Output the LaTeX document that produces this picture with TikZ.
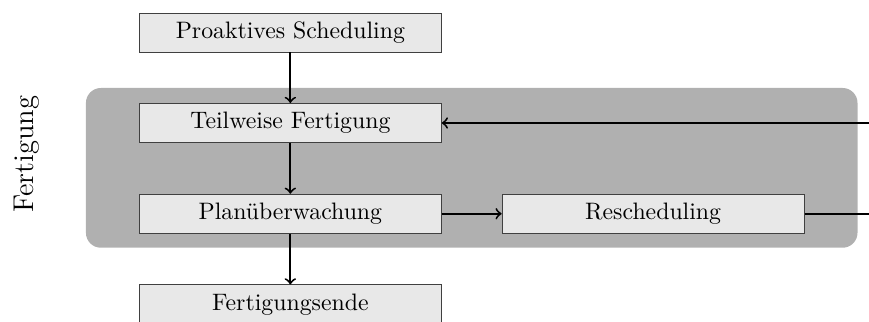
\documentclass[tikz,border=0pt]{standalone}
\usetikzlibrary{positioning}
\tikzset{
  block/.style={draw=black!75, fill=black!9, minimum width=4.46cm, minimum height=0.576cm, inner sep=0pt},
  pfeil/.style={->, thick}
}
\begin{document}
\begin{tikzpicture}
      \useasboundingbox (0,0) rectangle (12.84,-4.756);
      \begin{scope}
        \fill[black!31, rounded corners=0.22cm] (1.27,-1.30) rectangle (12.67,-3.66);
      \end{scope}
      \node[rotate=90, font=\large] (fert) at (0.40,-2.28) {Fertigung};
      \node[block] (pro)   at (4.29,-0.48)  {Proaktives Scheduling};
      \node[block] (teil)  at (4.29,-1.817) {Teilweise Fertigung};
      \node[block] (plan)  at (4.29,-3.158) {Planüberwachung};
      \node[block] (resch) at (9.65,-3.158) {Rescheduling};
      \node[block] (ende)  at (4.29,-4.498) {Fertigungsende};
      \draw[pfeil] (pro) -- (teil);
      \draw[pfeil] (teil) -- (plan);
      \draw[pfeil] (plan) -- (ende);
      \draw[pfeil] (plan) -- (resch);
      \draw[pfeil] (resch.east) -- ++(1.5,0) |- (teil.east);
    \end{tikzpicture}
\end{document}
